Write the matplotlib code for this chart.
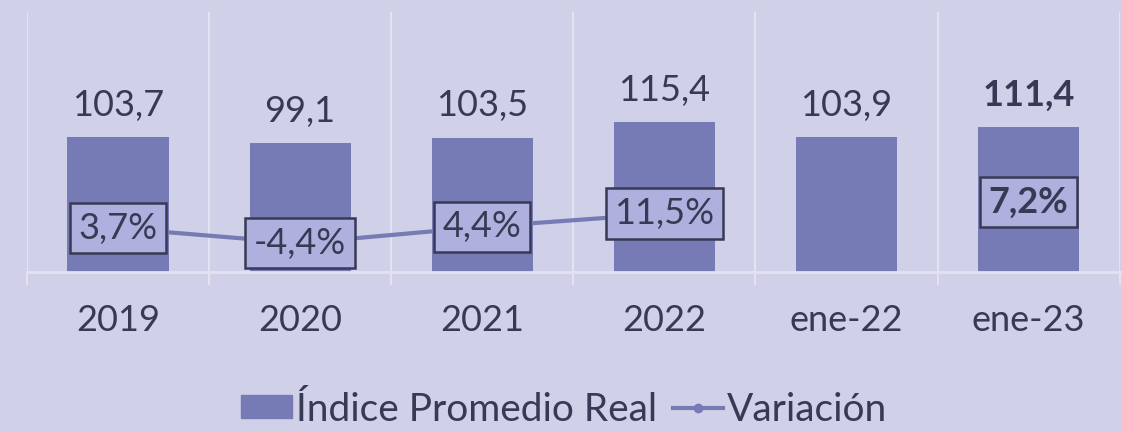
import numpy as np
import matplotlib
matplotlib.use("Agg")
import matplotlib.pyplot as plt
from matplotlib.lines import Line2D
from matplotlib.patches import Patch

# data
categories = ["2019", "2020", "2021", "2022", "ene-22", "ene-23"]
indice = [103.7, 99.1, 103.5, 115.4, 103.9, 111.4]
variacion = [3.7, -4.4, 4.4, 11.5, np.nan, 7.2]

# colours
bg = "#D0D0E8"
bar_col = "#767BB5"
box_col = "#B0B0DE"
txt_col = "#383A55"
grid_col = "#E2E2F0"

plt.rcParams["font.family"] = ["Lato", "DejaVu Sans"]
fs = 26

fig = plt.figure(figsize=(11.22, 4.32), dpi=100, facecolor=bg)
ax = fig.add_axes([0.024, 0.370, 0.974, 0.602])
ax.set_facecolor(bg)

x = np.arange(len(categories))
ax.bar(x, indice, width=0.555, color=bar_col, zorder=2)
ax.set_ylim(0, 200)
ax.set_xlim(-0.5, len(categories) - 0.5)

# value labels over the bars
for i, v in enumerate(indice):
    bold = categories[i] == "ene-23"
    ax.annotate(f"{v:.1f}".replace(".", ","), (x[i], v), xytext=(0, 23),
                textcoords="offset points", ha="center", va="center",
                fontsize=fs, color=txt_col,
                fontweight="bold" if bold else "normal")

# category separators and baseline
ax.set_xticks(x)
ax.set_xticklabels(categories, fontsize=fs, color=txt_col)
ax.set_xticks(np.arange(-0.5, len(categories)), minor=True)
ax.tick_params(axis="x", which="major", length=0, pad=23)
ax.tick_params(axis="x", which="minor", length=9, color=grid_col, width=1.5)
ax.grid(axis="x", which="minor", color=grid_col, linewidth=1.5, zorder=0)
ax.set_yticks([])
for s in ["left", "right", "top"]:
    ax.spines[s].set_visible(False)
ax.spines["bottom"].set_color(grid_col)
ax.spines["bottom"].set_linewidth(2)

# variation on secondary axis
ax2 = ax.twinx()
ax2.set_ylim(-20, 120)
ax2.set_yticks([])
for s in ax2.spines.values():
    s.set_visible(False)
ax2.plot(x, variacion, color=bar_col, linewidth=3, marker="o", markersize=6, zorder=3)

for i, v in enumerate(variacion):
    if np.isnan(v):
        continue
    bold = categories[i] == "ene-23"
    dy = 14 if bold else 0
    ax2.annotate(f"{v:.1f}%".replace(".", ","), (x[i], v), xytext=(0, dy),
                 textcoords="offset points", ha="center", va="center",
                 fontsize=fs, color=txt_col,
                 fontweight="bold" if bold else "normal",
                 bbox=dict(boxstyle="square,pad=0.24", fc=box_col, ec=txt_col, lw=1.8),
                 zorder=5)

handles = [Patch(color=bar_col),
           Line2D([], [], color=bar_col, lw=3, marker="o", markersize=6)]
fig.legend(handles, ["Índice Promedio Real", "Variación"], loc="center",
           bbox_to_anchor=(0.503, 0.052), ncol=2, frameon=False, fontsize=28,
           labelcolor=txt_col, handlelength=1.3, handleheight=0.55,
           handletextpad=0.1, columnspacing=0.4)

fig.savefig("out.png", dpi=100, facecolor=bg)
